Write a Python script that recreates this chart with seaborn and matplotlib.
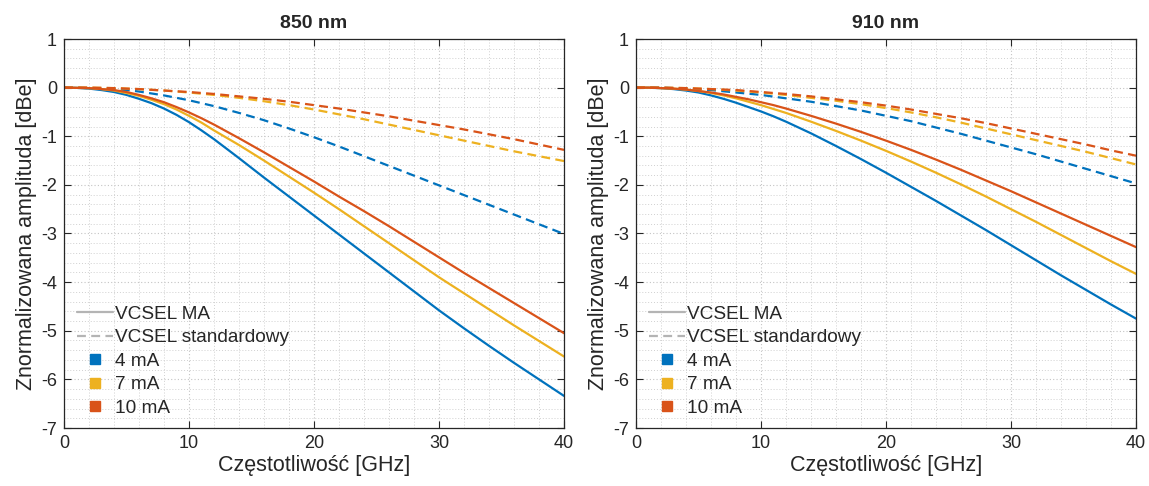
import numpy as np
import pandas as pd
import matplotlib
matplotlib.use("Agg")
import matplotlib.pyplot as plt
from matplotlib.lines import Line2D
from matplotlib.ticker import MultipleLocator
import seaborn as sns

# ---------------- data ----------------
freq = [0, 1, 2, 3, 4, 5, 6, 7, 8, 9, 10, 11, 12,
        14, 16, 18, 20, 22, 24, 26, 28, 30, 32, 34, 36, 38, 40]
currents = ["4 mA", "7 mA", "10 mA"]
types = ["VCSEL MA", "VCSEL standardowy"]

# 850 nm
ma850_4 = [0, -0.005, -0.02, -0.05, -0.09, -0.15, -0.23, -0.32, -0.43, -0.56, -0.71, -0.88, -1.06,
           -1.45, -1.85, -2.24, -2.63, -3.02, -3.41, -3.80, -4.19, -4.58, -4.95, -5.31, -5.66, -6.00, -6.34]
ma850_7 = [0, -0.005, -0.01, -0.03, -0.06, -0.11, -0.17, -0.25, -0.34, -0.45, -0.58, -0.72, -0.88,
           -1.18, -1.50, -1.83, -2.16, -2.50, -2.85, -3.20, -3.55, -3.90, -4.23, -4.56, -4.89, -5.21, -5.53]
ma850_10 = [0, -0.005, -0.01, -0.03, -0.05, -0.09, -0.15, -0.22, -0.30, -0.40, -0.51, -0.63, -0.76,
            -1.04, -1.33, -1.63, -1.93, -2.24, -2.54, -2.85, -3.17, -3.49, -3.81, -4.12, -4.43, -4.74, -5.05]
st850_4 = [0, 0, -0.01, -0.02, -0.03, -0.05, -0.08, -0.12, -0.16, -0.21, -0.26, -0.32, -0.38,
           -0.52, -0.67, -0.84, -1.02, -1.21, -1.41, -1.61, -1.81, -2.01, -2.21, -2.41, -2.61, -2.81, -3.01]
st850_7 = [0, 0, 0, -0.005, -0.01, -0.02, -0.03, -0.045, -0.06, -0.08, -0.10, -0.125, -0.15,
           -0.21, -0.28, -0.36, -0.45, -0.55, -0.65, -0.76, -0.87, -0.98, -1.09, -1.20, -1.31, -1.41, -1.51]
st850_10 = [0, 0, 0, -0.005, -0.01, -0.02, -0.03, -0.045, -0.06, -0.075, -0.09, -0.11, -0.13,
            -0.18, -0.23, -0.29, -0.36, -0.43, -0.51, -0.59, -0.68, -0.77, -0.86, -0.96, -1.06, -1.17, -1.28]

# 910 nm
ma910_4 = [0, -0.003, -0.01, -0.03, -0.06, -0.10, -0.16, -0.23, -0.31, -0.40, -0.49, -0.59, -0.70,
           -0.94, -1.20, -1.47, -1.75, -2.04, -2.33, -2.63, -2.93, -3.24, -3.55, -3.86, -4.16, -4.46, -4.75]
ma910_7 = [0, 0, -0.01, -0.02, -0.04, -0.07, -0.11, -0.16, -0.22, -0.29, -0.36, -0.44, -0.52,
           -0.70, -0.89, -1.09, -1.30, -1.52, -1.75, -1.99, -2.24, -2.50, -2.76, -3.03, -3.30, -3.57, -3.83]
ma910_10 = [0, 0, -0.01, -0.02, -0.04, -0.07, -0.10, -0.14, -0.19, -0.24, -0.30, -0.36, -0.43,
            -0.58, -0.74, -0.91, -1.09, -1.28, -1.48, -1.69, -1.91, -2.13, -2.36, -2.59, -2.82, -3.05, -3.28]
st910_4 = [0, 0, 0, -0.01, -0.02, -0.035, -0.05, -0.075, -0.10, -0.125, -0.15, -0.185, -0.22,
           -0.29, -0.38, -0.47, -0.58, -0.69, -0.82, -0.95, -1.09, -1.23, -1.37, -1.52, -1.67, -1.82, -1.97]
st910_7 = [0, 0, 0, -0.005, -0.01, -0.02, -0.03, -0.045, -0.06, -0.08, -0.10, -0.125, -0.15,
           -0.21, -0.27, -0.34, -0.42, -0.51, -0.61, -0.72, -0.84, -0.96, -1.08, -1.20, -1.32, -1.45, -1.58]
st910_10 = [0, 0, 0, -0.005, -0.01, -0.02, -0.03, -0.04, -0.05, -0.07, -0.09, -0.11, -0.13,
            -0.18, -0.24, -0.30, -0.37, -0.45, -0.54, -0.63, -0.73, -0.84, -0.95, -1.06, -1.17, -1.29, -1.40]

panels = {
    "850 nm": {("VCSEL MA", "4 mA"): ma850_4, ("VCSEL MA", "7 mA"): ma850_7, ("VCSEL MA", "10 mA"): ma850_10,
               ("VCSEL standardowy", "4 mA"): st850_4, ("VCSEL standardowy", "7 mA"): st850_7,
               ("VCSEL standardowy", "10 mA"): st850_10},
    "910 nm": {("VCSEL MA", "4 mA"): ma910_4, ("VCSEL MA", "7 mA"): ma910_7, ("VCSEL MA", "10 mA"): ma910_10,
               ("VCSEL standardowy", "4 mA"): st910_4, ("VCSEL standardowy", "7 mA"): st910_7,
               ("VCSEL standardowy", "10 mA"): st910_10},
}

rows = []
for wl, d in panels.items():
    for (t, c), vals in d.items():
        for f, v in zip(freq, vals):
            rows.append({"wl": wl, "type": t, "current": c, "f": f, "amp": v})
df = pd.DataFrame(rows)

# ---------------- style ----------------
sns.set_style("ticks")
plt.rcParams["font.family"] = ["Liberation Sans", "DejaVu Sans"]
plt.rcParams["axes.unicode_minus"] = False

palette = {"4 mA": "#0072BD", "7 mA": "#EDB120", "10 mA": "#D95319"}
dashes = {"VCSEL MA": "", "VCSEL standardowy": (4, 2.4)}

fig = plt.figure(figsize=(11.49, 4.86), dpi=100)
ax_pos = [[64 / 1149, 58 / 486, 500 / 1149, 389 / 486],
          [636 / 1149, 58 / 486, 500 / 1149, 389 / 486]]

for pos, wl in zip(ax_pos, ["850 nm", "910 nm"]):
    ax = fig.add_axes(pos)
    sub = df[df["wl"] == wl]
    sns.lineplot(data=sub, x="f", y="amp", hue="current", style="type",
                 palette=palette, dashes=dashes, hue_order=currents,
                 style_order=types, legend=False, ax=ax, linewidth=1.6)
    ax.set_xlim(0, 40)
    ax.set_ylim(-7, 1)
    ax.xaxis.set_major_locator(MultipleLocator(10))
    ax.xaxis.set_minor_locator(MultipleLocator(2))
    ax.yaxis.set_major_locator(MultipleLocator(1))
    ax.yaxis.set_minor_locator(MultipleLocator(0.2))
    ax.grid(which="major", color="#c4c4c4", linestyle=(0, (1, 2)), linewidth=0.8)
    ax.grid(which="minor", color="#d0d0d0", linestyle=(0, (1, 2)), linewidth=0.7)
    ax.set_axisbelow(True)
    ax.tick_params(which="major", direction="in", length=5, width=0.8,
                   top=True, right=True, labelsize=13, colors="#262626",
                   labelcolor="#262626", pad=5)
    ax.tick_params(which="minor", length=0)
    for s in ax.spines.values():
        s.set_color("#262626")
        s.set_linewidth(0.9)
    ax.set_title(wl, fontsize=14, fontweight="bold", pad=8)
    ax.set_xlabel("Częstotliwość [GHz]", fontsize=15.5, color="#262626", labelpad=2)
    ax.set_ylabel("Znormalizowana amplituda [dBe]", fontsize=15.5, color="#262626", labelpad=3)

    handles = [
        Line2D([], [], color="#b4b4b4", lw=1.6, ls="-"),
        Line2D([], [], color="#b4b4b4", lw=1.6, ls=(0, (4, 2.4))),
        Line2D([], [], color=palette["4 mA"], marker="s", ls="none", markersize=7),
        Line2D([], [], color=palette["7 mA"], marker="s", ls="none", markersize=7),
        Line2D([], [], color=palette["10 mA"], marker="s", ls="none", markersize=7),
    ]
    labels = types + currents
    ax.legend(handles, labels, loc="lower left", bbox_to_anchor=(0.0, -0.005),
              frameon=False, fontsize=13.7, handlelength=1.85, handletextpad=0.15,
              labelspacing=0.32, borderaxespad=0.3, labelcolor="#262626")

fig.savefig("out.png", dpi=100)
